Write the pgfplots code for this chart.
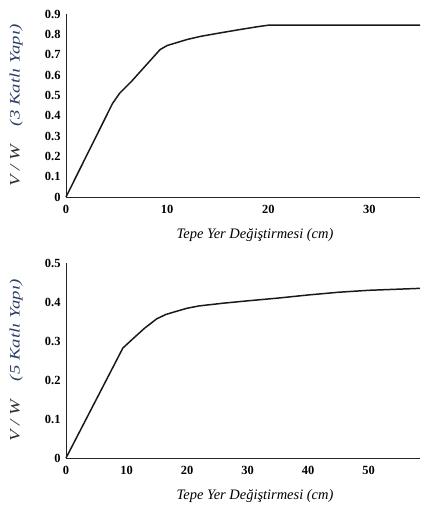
\documentclass[border=0pt]{standalone}
\usepackage{pgfplots}
\pgfplotsset{compat=1.18}
\usepackage{fontspec}
\setmainfont{Liberation Serif}
\definecolor{navy}{HTML}{2B3F66}
\definecolor{dk}{HTML}{303030}
\begin{document}
\begin{tikzpicture}
\path (0bp,0bp) rectangle (422bp,-506bp);
\pgfplotsset{
  myax/.style={
    scale only axis, width=354bp,
    axis lines=left, axis line style={-, line width=0.9pt, color=black!85},
    major tick length=0pt,
    tick label style={font=\bfseries\fontsize{12.5}{12.5}\selectfont},
    /pgf/number format/assume math mode=true,
    clip=false,
    yticklabel style={xshift=-2bp, /pgf/number format/.cd, fixed, precision=1},
    xlabel={Tepe Yer Değiştirmesi (cm)},
    xlabel style={at={(axis description cs:0.534,0)}, anchor=north, yshift=-28bp,
       font=\itshape\fontsize{14.5}{15}\selectfont},
    ylabel style={at={(axis description cs:-0.141,0.5)}, anchor=center,
       font=\itshape\fontsize{14.5}{15}\selectfont},
    x tick label style={yshift=-5bp},
  }
}
\begin{axis}[myax, at={(66bp,-197bp)}, anchor=origin, height=183bp,
  xmin=0, xmax=35, ymin=0, ymax=0.9,
  xtick={0,10,20,30}, ytick={0,0.1,...,0.9},
  ylabel={\scalebox{1.3}[1]{\textcolor{dk}{V / W}\quad\textcolor{navy}{(3 Katlı Yapı)}}},
]
\addplot[line width=1.5pt, black!90] coordinates {
(0,0) (4.6,0.46) (5.3,0.51) (6.5,0.57) (9.3,0.725) (10,0.745) (11,0.76) (12,0.775) (13.3,0.79) (15,0.805) (17,0.822) (19,0.838) (20,0.845) (35,0.845)};
\end{axis}
\begin{axis}[myax, at={(66bp,-458bp)}, anchor=origin, height=195bp,
  xmin=0, xmax=58.5, ymin=0, ymax=0.5,
  xtick={0,10,...,50}, ytick={0,0.1,...,0.5},
  ylabel={\scalebox{1.3}[1]{\textcolor{dk}{V / W}\quad\textcolor{navy}{(5 Katlı Yapı)}}},
]
\addplot[line width=1.5pt, black!90] coordinates {
(0,0) (9.4,0.282) (11,0.305) (13,0.333) (15,0.357) (16.5,0.368) (18,0.375) (20,0.384) (22,0.39) (26,0.397) (30,0.403) (35,0.41) (40,0.418) (45,0.425) (50,0.43) (58.5,0.435)};
\end{axis}
\end{tikzpicture}
\end{document}
